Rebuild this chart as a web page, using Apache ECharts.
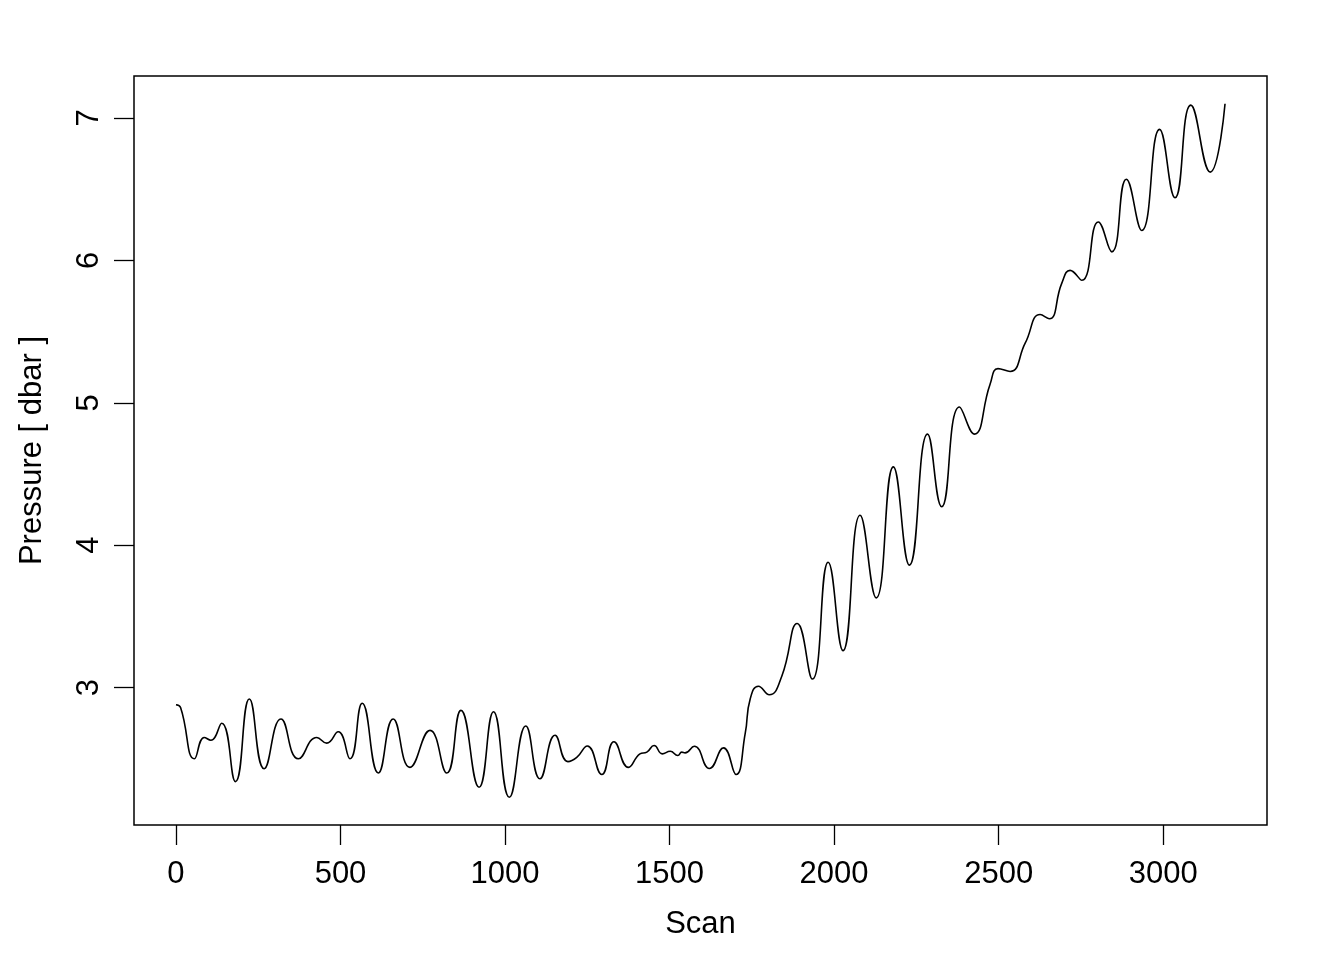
<!DOCTYPE html>
<html>
<head>
<meta charset="utf-8">
<script src="https://cdn.jsdelivr.net/npm/echarts@6/dist/echarts.min.js"></script>
<style>
html,body{margin:0;padding:0;background:#fff;}
#chart{width:1344px;height:960px;}
</style>
</head>
<body>
<div id="chart"></div>
<script>
// Scan index of each key point (extrema and shape points)
var scans = [0, 14, 56, 86, 106, 139, 181, 223, 268, 319, 372, 428, 458, 493, 529, 566, 615, 660, 711, 772, 823, 866, 921, 965, 1013, 1063, 1106, 1152, 1191, 1218, 1250, 1294, 1331, 1375, 1410, 1431, 1453, 1478, 1502, 1525, 1537, 1547, 1575, 1621, 1664, 1702, 1730, 1745, 1770, 1803, 1841, 1888, 1934, 1982, 2027, 2079, 2128, 2180, 2229, 2284, 2327, 2381, 2426, 2474, 2498, 2535, 2581, 2626, 2654, 2692, 2717, 2753, 2803, 2844, 2888, 2935, 2989, 3036, 3084, 3143, 3188];
// Pressure [dbar] at those scans
var pressure = [2.88, 2.86, 2.50, 2.65, 2.63, 2.75, 2.34, 2.92, 2.43, 2.78, 2.50, 2.65, 2.61, 2.69, 2.50, 2.89, 2.40, 2.78, 2.44, 2.70, 2.40, 2.84, 2.30, 2.83, 2.23, 2.73, 2.36, 2.665, 2.48, 2.51, 2.59, 2.39, 2.62, 2.44, 2.535, 2.547, 2.593, 2.535, 2.553, 2.523, 2.547, 2.542, 2.588, 2.432, 2.577, 2.39, 2.68, 2.92, 3.01, 2.95, 3.08, 3.45, 3.06, 3.88, 3.26, 4.21, 3.63, 4.55, 3.86, 4.78, 4.27, 4.97, 4.78, 5.13, 5.24, 5.22, 5.42, 5.62, 5.59, 5.84, 5.93, 5.86, 6.27, 6.06, 6.57, 6.21, 6.92, 6.44, 7.09, 6.62, 7.10];
var xTicks = [0, 500, 1000, 1500, 2000, 2500, 3000];
var yTicks = [3, 4, 5, 6, 7];

var data = scans.map(function (s, i) { return [s, pressure[i]]; });

// R-style 4% axis padding
var xmin = Math.min.apply(null, scans), xmax = Math.max.apply(null, scans);
var ymin = Math.min.apply(null, pressure), ymax = Math.max.apply(null, pressure);
var xp = (xmax - xmin) * 0.04, yp = (ymax - ymin) * 0.04;

var font = "'Liberation Sans', Arial, Helvetica, sans-serif";
var plain = function (v) { return String(v); };
var chart = echarts.init(document.getElementById('chart'), null, {renderer: 'canvas'});
chart.setOption({
  animation: false,
  backgroundColor: '#ffffff',
  grid: {left: 134, top: 76, right: 77, bottom: 135, show: true, borderColor: '#000', borderWidth: 1.5, backgroundColor: 'transparent'},
  xAxis: {
    type: 'value', min: xmin - xp, max: xmax + xp,
    name: 'Scan', nameLocation: 'middle', nameGap: 84,
    nameTextStyle: {fontFamily: font, fontSize: 31, color: '#000'},
    axisLine: {show: false, onZero: false},
    splitLine: {show: false},
    axisTick: {show: true, inside: false, length: 20, customValues: xTicks, lineStyle: {color: '#000', width: 1.3}},
    axisLabel: {customValues: xTicks, formatter: plain, margin: 34, fontFamily: font, fontSize: 31, color: '#000'}
  },
  yAxis: {
    type: 'value', min: ymin - yp, max: ymax + yp,
    name: 'Pressure [ dbar ]', nameLocation: 'middle', nameGap: 86,
    nameTextStyle: {fontFamily: font, fontSize: 31, color: '#000'},
    axisLine: {show: false, onZero: false},
    splitLine: {show: false},
    axisTick: {show: true, inside: false, length: 20, customValues: yTicks, lineStyle: {color: '#000', width: 1.3}},
    axisLabel: {customValues: yTicks, formatter: plain, rotate: 90, margin: 29, fontFamily: font, fontSize: 31, color: '#000'}
  },
  series: [{
    type: 'line', data: data, smooth: 0.5, showSymbol: false,
    lineStyle: {color: '#000', width: 1.6}
  }]
});
</script>
</body>
</html>
